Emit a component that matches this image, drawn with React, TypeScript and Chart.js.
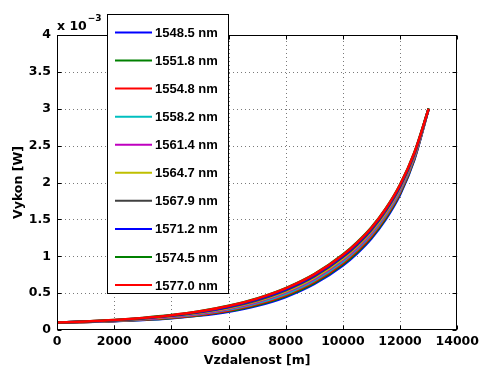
import React, { useEffect, useRef } from 'react';
import { Chart, registerables } from 'chart.js';

Chart.register(...registerables);

// distance along fibre [m]
const distance = [0, 1000, 2000, 3000, 4000, 5000, 6000, 7000, 8000, 9000, 10000, 10500, 11000, 11500, 12000, 12500, 13000];

const wavelengths = ['1548.5 nm', '1551.8 nm', '1554.8 nm', '1558.2 nm', '1561.4 nm', '1564.7 nm', '1567.9 nm', '1571.2 nm', '1574.5 nm', '1577.0 nm'];

// power in units of 10^-3 W
const p1548_5 = [0.100, 0.108, 0.120, 0.136, 0.160, 0.195, 0.248, 0.328, 0.448, 0.624, 0.876, 1.041, 1.243, 1.502, 1.836, 2.311, 3.000];
const p1551_8 = [0.100, 0.109, 0.121, 0.139, 0.164, 0.201, 0.256, 0.339, 0.461, 0.638, 0.892, 1.058, 1.259, 1.519, 1.851, 2.322, 3.000];
const p1554_8 = [0.100, 0.110, 0.123, 0.142, 0.169, 0.208, 0.265, 0.351, 0.475, 0.654, 0.910, 1.076, 1.277, 1.537, 1.868, 2.334, 3.000];
const p1558_2 = [0.100, 0.111, 0.126, 0.146, 0.175, 0.216, 0.276, 0.364, 0.491, 0.673, 0.930, 1.097, 1.298, 1.558, 1.888, 2.348, 3.000];
const p1561_4 = [0.100, 0.112, 0.128, 0.150, 0.181, 0.225, 0.288, 0.379, 0.509, 0.692, 0.952, 1.119, 1.320, 1.579, 1.908, 2.362, 3.000];
const p1564_7 = [0.100, 0.113, 0.130, 0.154, 0.187, 0.233, 0.298, 0.392, 0.524, 0.710, 0.970, 1.138, 1.339, 1.597, 1.925, 2.374, 3.000];
const p1567_9 = [0.100, 0.114, 0.132, 0.157, 0.192, 0.240, 0.308, 0.404, 0.539, 0.726, 0.988, 1.156, 1.357, 1.615, 1.942, 2.386, 3.000];
const p1571_2 = [0.100, 0.114, 0.133, 0.160, 0.196, 0.247, 0.316, 0.415, 0.551, 0.740, 1.003, 1.171, 1.372, 1.629, 1.955, 2.395, 3.000];
const p1574_5 = [0.100, 0.115, 0.136, 0.164, 0.202, 0.255, 0.328, 0.429, 0.568, 0.758, 1.023, 1.191, 1.392, 1.648, 1.973, 2.408, 3.005];
const p1577_0 = [0.100, 0.115, 0.135, 0.163, 0.201, 0.253, 0.325, 0.426, 0.564, 0.754, 1.018, 1.186, 1.387, 1.644, 1.969, 2.405, 3.000];

const series = [p1548_5, p1551_8, p1554_8, p1558_2, p1561_4, p1564_7, p1567_9, p1571_2, p1574_5, p1577_0];
const colors = ['#0000ff', '#008000', '#ff0000', '#00bfbf', '#bf00bf', '#bfbf00', '#404040', '#0000ff', '#008000', '#ff0000'];

const xTicks = [0, 2000, 4000, 6000, 8000, 10000, 12000, 14000];
const yTicks = [0, 0.5, 1, 1.5, 2, 2.5, 3, 3.5, 4];
const yTickLabels = ['0', '0.5', '1', '1.5', '2', '2.5', '3', '3.5', '4'];

const xTitle = 'Vzdalenost [m]';
const yTitle = 'Vykon [W]';

const FAMILY = 'DejaVu Sans';
const FSIZE = 12.5;
const LEGEND_FONT = 'bold 13px "Liberation Sans"';

const decor = {
  id: 'matlabDecor',
  beforeDatasetsDraw(chart: any) {
    const { ctx, chartArea: a, scales } = chart;
    const xs = scales.x;
    const ys = scales.y;
    ctx.save();
    ctx.strokeStyle = '#7a7a7a';
    ctx.lineWidth = 1;
    ctx.setLineDash([1, 3]);
    for (const t of xTicks) {
      const px = Math.round(xs.getPixelForValue(t)) + 0.5;
      if (px < a.left + 2 || px > a.right - 2) continue;
      ctx.beginPath();
      ctx.moveTo(px, a.bottom);
      ctx.lineTo(px, a.top);
      ctx.stroke();
    }
    for (const t of yTicks) {
      const py = Math.round(ys.getPixelForValue(t)) + 0.5;
      if (py < a.top + 2 || py > a.bottom - 2) continue;
      ctx.beginPath();
      ctx.moveTo(a.left, py);
      ctx.lineTo(a.right, py);
      ctx.stroke();
    }
    ctx.restore();
  },
  afterDatasetsDraw(chart: any) {
    const { ctx, chartArea: a, scales } = chart;
    const xs = scales.x;
    const ys = scales.y;
    ctx.save();
    ctx.strokeStyle = '#000';
    ctx.lineWidth = 1;
    ctx.setLineDash([]);
    const L = Math.round(a.left) + 0.5;
    const R = Math.round(a.right) - 0.5;
    const T = Math.round(a.top) + 0.5;
    const B = Math.round(a.bottom) - 0.5;
    ctx.strokeRect(L, T, R - L, B - T);
    ctx.beginPath();
    for (const t of xTicks) {
      const px = Math.round(xs.getPixelForValue(t)) + 0.5;
      ctx.moveTo(px, B);
      ctx.lineTo(px, B - 4);
      ctx.moveTo(px, T);
      ctx.lineTo(px, T + 4);
    }
    for (const t of yTicks) {
      const py = Math.round(ys.getPixelForValue(t)) + 0.5;
      ctx.moveTo(L, py);
      ctx.lineTo(L + 4, py);
      ctx.moveTo(R, py);
      ctx.lineTo(R - 4, py);
    }
    ctx.stroke();
    ctx.restore();
  },
  afterDraw(chart: any) {
    const { ctx, chartArea: a } = chart;
    ctx.save();
    // exponent label
    ctx.fillStyle = '#000';
    ctx.textBaseline = 'alphabetic';
    ctx.textAlign = 'left';
    ctx.font = `bold ${FSIZE}px "${FAMILY}"`;
    ctx.fillText('x 10', a.left, 30);
    const w = ctx.measureText('x 10').width;
    ctx.font = `bold 9px "${FAMILY}"`;
    ctx.fillText('\u22123', a.left + w + 1, 21);

    // legend
    const lx = 107, ly = 14, lw = 121, lh = 279;
    ctx.fillStyle = '#fff';
    ctx.fillRect(lx, ly, lw, lh);
    ctx.strokeStyle = '#000';
    ctx.lineWidth = 1;
    ctx.strokeRect(lx + 0.5, ly + 0.5, lw, lh);
    ctx.font = LEGEND_FONT;
    ctx.textBaseline = 'middle';
    wavelengths.forEach((label, i) => {
      const yy = 32.5 + i * 28.06;
      ctx.strokeStyle = colors[i];
      ctx.lineWidth = 2;
      ctx.beginPath();
      ctx.moveTo(115, yy);
      ctx.lineTo(152, yy);
      ctx.stroke();
      ctx.fillStyle = '#000';
      ctx.fillText(label, 155, yy + 1);
    });
    ctx.restore();
  },
};

export default function App() {
  const ref = useRef<HTMLCanvasElement>(null);
  useEffect(() => {
    if (!ref.current) return;
    const n = series.length;
    const axisFont = { family: FAMILY, size: FSIZE, weight: 'bold' as const };
    const chart = new Chart(ref.current, {
      type: 'line',
      data: {
        datasets: series.map((s, i) => ({
          label: wavelengths[i],
          data: s.map((v, j) => ({ x: distance[j], y: v })),
          borderColor: colors[i],
          backgroundColor: colors[i],
          borderWidth: 2.5,
          pointRadius: 0,
          fill: false,
          cubicInterpolationMode: 'monotone' as const,
          order: n - 1 - i,
        })),
      },
      options: {
        responsive: false,
        animation: false,
        events: [],
        layout: { padding: { top: 35, right: 23, left: 0, bottom: 0 } },
        plugins: { legend: { display: false }, tooltip: { enabled: false } },
        scales: {
          x: {
            type: 'linear',
            min: 0,
            max: 14000,
            afterFit: (s: any) => { s.height = 39; },
            afterBuildTicks: (s: any) => { s.ticks = xTicks.map((v) => ({ value: v })); },
            grid: { display: false, drawTicks: false },
            border: { display: false },
            ticks: {
              padding: 4,
              color: '#000',
              font: axisFont,
              maxRotation: 0,
              autoSkip: false,
              callback: (v: any) => String(v),
            },
            title: {
              display: true,
              text: xTitle,
              color: '#000',
              font: axisFont,
              padding: { top: 0, bottom: 1 },
            },
          },
          y: {
            type: 'linear',
            min: 0,
            max: 4,
            afterFit: (s: any) => { s.width = 57; },
            afterBuildTicks: (s: any) => { s.ticks = yTicks.map((v) => ({ value: v })); },
            grid: { display: false, drawTicks: false },
            border: { display: false },
            ticks: {
              padding: 6,
              color: '#000',
              font: axisFont,
              autoSkip: false,
              callback: (v: any) => yTickLabels[yTicks.indexOf(Number(v))] ?? String(v),
            },
            title: {
              display: true,
              text: yTitle,
              color: '#000',
              font: axisFont,
              padding: { top: 11, bottom: 0 },
            },
          },
        },
      },
      plugins: [decor],
    });
    return () => chart.destroy();
  }, []);
  return (
    <div style={{ position: 'fixed', left: 0, top: 0, width: 483, height: 369, background: '#fff' }}>
      <canvas ref={ref} width={483} height={369} style={{ display: 'block' }} />
    </div>
  );
}
